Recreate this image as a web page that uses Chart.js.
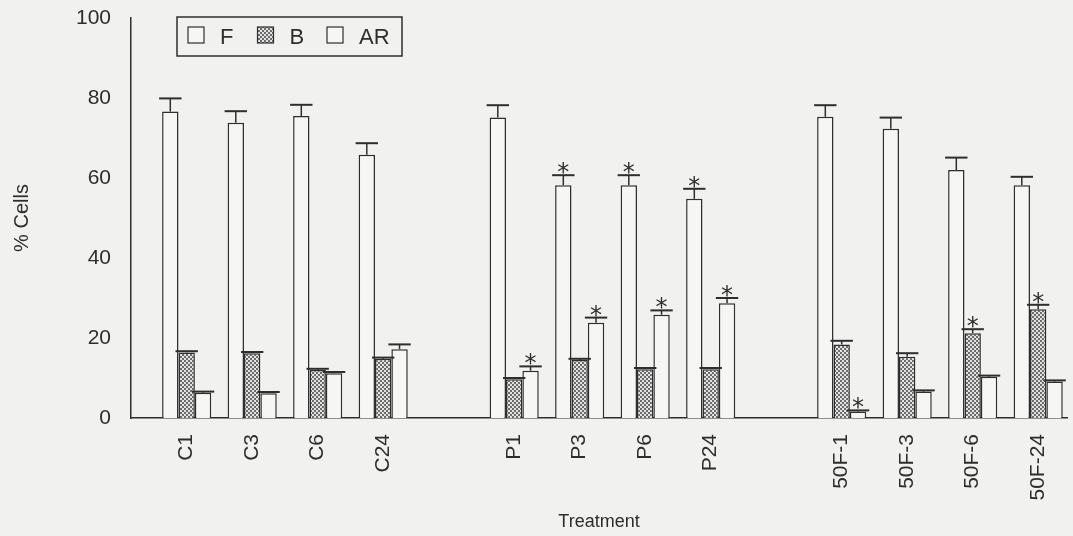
<!DOCTYPE html>
<html>
<head>
<meta charset="utf-8">
<script src="https://cdn.jsdelivr.net/npm/chart.js@4"></script>
<style>
  html, body { margin: 0; padding: 0; background: #f1f1ef; }
  #wrap { width: 1073px; height: 536px; }
</style>
</head>
<body>
<div id="wrap"><canvas id="cellsChart"></canvas></div>
<script>
// category slots (gaps at 4 and 9 separate the treatment groups)
const catNames = ['C1', 'C3', 'C6', 'C24', 'P1', 'P3', 'P6', 'P24', '50F-1', '50F-3', '50F-6', '50F-24'];
const catSlots = [0, 1, 2, 3, 5, 6, 7, 8, 10, 11, 12, 13];

const valuesF = [76.6, 73.8, 75.5, 65.8, 75.1, 58.2, 58.2, 54.8, 75.3, 72.3, 62.0, 58.2];
const errorsF = [3.3, 2.9, 2.8, 2.9, 3.1, 2.5, 2.5, 2.5, 2.9, 2.8, 3.1, 2.1];
const starsF  = [0, 0, 0, 0, 0, 1, 1, 1, 0, 0, 0, 0];

const valuesB = [16.4, 16.2, 12.0, 14.8, 9.7, 14.5, 12.2, 12.2, 18.4, 15.3, 21.2, 27.2];
const errorsB = [0.3, 0.3, 0.3, 0.3, 0.3, 0.3, 0.3, 0.3, 0.9, 0.9, 1.0, 1.1];
const starsB  = [0, 0, 0, 0, 0, 0, 0, 0, 0, 0, 1, 1];

const valuesAR = [6.3, 6.2, 11.2, 17.2, 11.8, 23.8, 25.8, 28.7, 1.6, 6.6, 10.3, 9.1];
const errorsAR = [0.3, 0.3, 0.3, 1.2, 1.1, 1.3, 1.1, 1.3, 0.3, 0.3, 0.3, 0.3];
const starsAR  = [0, 0, 0, 0, 1, 1, 1, 1, 1, 0, 0, 0];

const yTicks = [0, 20, 40, 60, 80, 100];

const INK = '#2e2e2e';
const FONT = "'Liberation Sans', Arial, sans-serif";

function makeDots() {
    const c = document.createElement('canvas');
    c.width = 4; c.height = 4;
    const g = c.getContext('2d');
    g.fillStyle = '#e2e2e2';
    g.fillRect(0, 0, 4, 4);
    g.fillStyle = '#6c6c6c';
    g.fillRect(0, 0, 2, 2);
    g.fillRect(2, 2, 2, 2);
    return g.createPattern(c, 'repeat');
}

function points(values) {
    return values.map((v, i) => ({ x: catSlots[i], y: v }));
}

function makeSet(label, values, errors, stars, fill) {
    return {
        label: label,
        data: points(values),
        errors: errors,
        stars: stars,
        backgroundColor: fill,
        borderColor: INK,
        borderWidth: 1.5,
        categoryPercentage: 0.75,
        barPercentage: 1.0
    };
}

// error bars (upper only) and significance stars
const errorBarPlugin = {
    id: 'errorBars',
    afterDatasetsDraw(chart) {
        const ctx = chart.ctx;
        const yScale = chart.scales.y;
        chart.data.datasets.forEach((ds, di) => {
            const meta = chart.getDatasetMeta(di);
            meta.data.forEach((bar, i) => {
                const p = bar.getProps(['x', 'y', 'width'], true);
                const top = yScale.getPixelForValue(ds.data[i].y + ds.errors[i]);
                const half = p.width / 2 + 3;
                ctx.save();
                ctx.strokeStyle = INK;
                ctx.lineWidth = 1.5;
                ctx.beginPath();
                ctx.moveTo(p.x, p.y);
                ctx.lineTo(p.x, top);
                ctx.stroke();
                ctx.lineWidth = 2;
                ctx.beginPath();
                ctx.moveTo(p.x - half, top);
                ctx.lineTo(p.x + half, top);
                ctx.stroke();
                if (ds.stars[i]) {
                    ctx.fillStyle = INK;
                    ctx.font = "24px 'DejaVu Sans', sans-serif";
                    ctx.textAlign = 'center';
                    ctx.textBaseline = 'alphabetic';
                    ctx.fillText('*', p.x, top + 5);
                }
                ctx.restore();
            });
        });
    }
};

// boxed legend sitting inside the plot area
const boxLegendPlugin = {
    id: 'boxLegend',
    afterDraw(chart) {
        const ctx = chart.ctx;
        const a = chart.chartArea;
        const x0 = a.left + 46, y0 = a.top - 1;
        ctx.save();
        ctx.strokeStyle = INK;
        ctx.lineWidth = 1.5;
        ctx.strokeRect(x0, y0, 225, 39);
        ctx.font = '22px ' + FONT;
        ctx.textBaseline = 'middle';
        ctx.textAlign = 'left';
        chart.data.datasets.forEach((ds, i) => {
            const sx = x0 + 11 + i * 69.5;
            ctx.fillStyle = ds.backgroundColor;
            ctx.fillRect(sx, y0 + 10, 16, 16);
            ctx.lineWidth = 1.2;
            ctx.strokeRect(sx, y0 + 10, 16, 16);
            ctx.fillStyle = INK;
            ctx.fillText(ds.label, sx + 32, y0 + 21);
        });
        ctx.restore();
    }
};

const config = {
    type: 'bar',
    data: {
        datasets: [
            makeSet('F', valuesF, errorsF, starsF, '#f6f6f5'),
            makeSet('B', valuesB, errorsB, starsB, makeDots()),
            makeSet('AR', valuesAR, errorsAR, starsAR, '#f6f6f5')
        ]
    },
    options: {
        responsive: true,
        maintainAspectRatio: false,
        animation: false,
        layout: { padding: { top: 18, right: 6, left: 0, bottom: 0 } },
        plugins: {
            legend: { display: false },
            tooltip: { enabled: false }
        },
        scales: {
            x: {
                type: 'linear',
                offset: false,
                min: -0.85,
                max: 13.44,
                grid: { display: false, drawTicks: true, tickLength: 16, tickColor: 'rgba(0,0,0,0)' },
                border: { color: INK, width: 1.5 },
                afterBuildTicks: function(scale) {
                    scale.ticks = catSlots.map(v => ({ value: v }));
                },
                afterFit: function(scale) { scale.height = 118; },
                ticks: {
                    autoSkip: false,
                    minRotation: 90,
                    maxRotation: 90,
                    padding: 0,
                    color: INK,
                    font: { family: FONT, size: 21 },
                    callback: function(value) {
                        const i = catSlots.indexOf(value);
                        return i >= 0 ? catNames[i] : '';
                    }
                },
                title: {
                    display: true,
                    text: 'Treatment',
                    color: INK,
                    font: { family: FONT, size: 18 },
                    padding: { top: 0, bottom: 3 }
                }
            },
            y: {
                min: 0,
                max: 100,
                grid: { display: false, drawTicks: true, tickLength: 20, tickColor: 'rgba(0,0,0,0)' },
                border: { color: INK, width: 1.5 },
                afterBuildTicks: function(scale) {
                    scale.ticks = yTicks.map(v => ({ value: v }));
                },
                afterFit: function(scale) { scale.width = 131; },
                ticks: {
                    padding: 0,
                    color: INK,
                    font: { family: FONT, size: 21 }
                },
                title: {
                    display: true,
                    text: '% Cells',
                    color: INK,
                    font: { family: FONT, size: 20 },
                    padding: { top: 10, bottom: 0 }
                }
            }
        }
    },
    plugins: [errorBarPlugin, boxLegendPlugin]
};

const cellsChart = new Chart(document.getElementById('cellsChart'), config);
</script>
</body>
</html>
